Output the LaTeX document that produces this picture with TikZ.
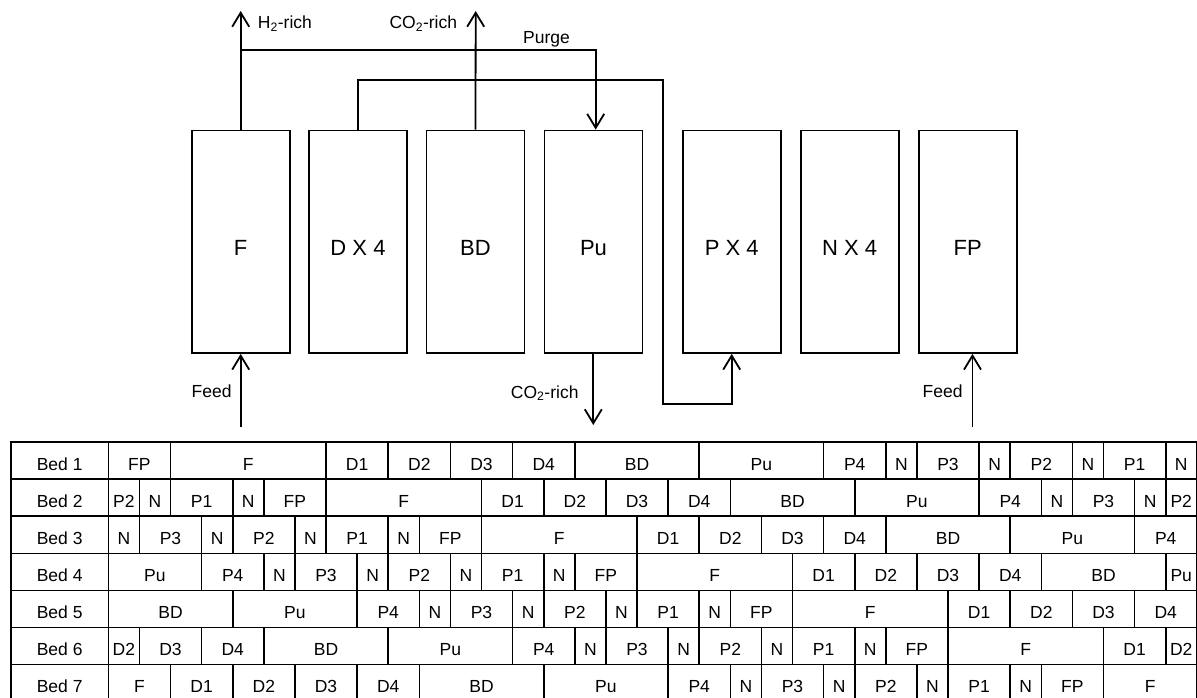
\documentclass[tikz,border=0pt]{standalone}
\usepackage{fontspec}
\setmainfont{Liberation Sans}
\usetikzlibrary{arrows.meta}
\begin{document}
\begin{tikzpicture}[x=1pt,y=-1pt,
  box/.style={draw, line width=1.8pt, minimum width=98pt, minimum height=222.5pt, inner sep=0pt,
    font=\fontsize{22}{26}\selectfont, text height=26.5pt, text depth=0pt},
  arr/.style={line width=1.8pt, -{Straight Barb[length=14pt,width=17pt]}},
  lbl/.style={inner sep=0pt, font=\fontsize{17.5}{20}\selectfont},
  cell/.style={draw, line width=1.6pt, inner sep=0pt, minimum height=37.1pt,
    font=\fontsize{17.5}{20}\selectfont, text height=19pt, text depth=0pt}]
\useasboundingbox (0,0) rectangle (1197,697);

% beds
\node[box] (F)  at (240.7,241.75) {F};
\node[box] (D)  at (358,241.75) {D X 4};
\node[box] (BD) at (475.5,241.75) {BD};
\node[box] (Pu) at (593.5,241.75) {Pu};
\node[box] (P)  at (731.7,241.75) {P X 4};
\node[box] (N)  at (849.7,241.75) {N X 4};
\node[box] (FP) at (967.7,241.75) {FP};

% coordinates
\coordinate (h2tip) at (240.7,11);
\coordinate (co2tip) at (475.7,11);
\coordinate (pj) at (240.7,50);
\coordinate (pc) at (595.7,50);
\coordinate (dtop) at (358,80);
\coordinate (dc1) at (662.7,80);
\coordinate (dc2) at (662.7,404.3);
\coordinate (co2d) at (593.3,425);
\coordinate (feedA) at (240.7,427.3);
\coordinate (feedB) at (972.5,427.3);

% connectors
\draw[arr] (F.north) -- (h2tip);
\draw[arr] (BD.north) -- (co2tip);
\draw[arr] (pj) -- (pc) -- (pc |- Pu.north);
\draw[arr, rounded corners=0pt] (D.north) -- (dtop) -- (dc1) -- (dc2) -- (dc2 -| P.south) -- (P.south);
\draw[arr] (co2d |- Pu.south) -- (co2d);
\draw[arr] (feedA) -- (F.south);
\draw[arr] (feedB) -- (feedB |- FP.south);

% labels
\node[lbl, anchor=base west] (h2) at (257.7,28.5) {H\textsubscript{2}-rich};
\node[lbl, anchor=base east] (co2a) at (457.3,28.5) {CO\textsubscript{2}-rich};
\node[lbl, anchor=base west] (purge) at (523,43.5) {Purge};
\node[lbl, anchor=base east] (co2b) at (578.7,398.3) {CO\textsubscript{2}-rich};
\node[lbl, anchor=base east] (feedAl) at (231.7,397.7) {Feed};
\node[lbl, anchor=base east] (feedBl) at (962.7,397.7) {Feed};

% schedule table
\foreach \rw/\cells in {
 1/{FP/2,F/5,D1/2,D2/2,D3/2,D4/2,BD/4,Pu/4,P4/2,N/1,P3/2,N/1,P2/2,N/1,P1/2,N/1},
 2/{P2/1,N/1,P1/2,N/1,FP/2,F/5,D1/2,D2/2,D3/2,D4/2,BD/4,Pu/4,P4/2,N/1,P3/2,N/1,P2/1},
 3/{N/1,P3/2,N/1,P2/2,N/1,P1/2,N/1,FP/2,F/5,D1/2,D2/2,D3/2,D4/2,BD/4,Pu/4,P4/2},
 4/{Pu/3,P4/2,N/1,P3/2,N/1,P2/2,N/1,P1/2,N/1,FP/2,F/5,D1/2,D2/2,D3/2,D4/2,BD/4,Pu/1},
 5/{BD/4,Pu/4,P4/2,N/1,P3/2,N/1,P2/2,N/1,P1/2,N/1,FP/2,F/5,D1/2,D2/2,D3/2,D4/2},
 6/{D2/1,D3/2,D4/2,BD/4,Pu/4,P4/2,N/1,P3/2,N/1,P2/2,N/1,P1/2,N/1,FP/2,F/5,D1/2,D2/1},
 7/{F/2,D1/2,D2/2,D3/2,D4/2,BD/4,Pu/4,P4/2,N/1,P3/2,N/1,P2/2,N/1,P1/2,N/1,FP/2,F/3}} {
  \pgfmathsetmacro{\yc}{442+(\rw-0.5)*37.1}
  \node[cell, minimum width=97.3pt] (bed\rw) at (59.65,\yc) {Bed \rw};
  \gdef\cstart{0}
  \foreach \lab/\w [count=\k] in \cells {
    \pgfmathsetmacro{\xc}{108.3+(\cstart+\w/2)*31.1}
    \pgfmathsetmacro{\ww}{\w*31.1}
    \node[cell, minimum width=\ww pt] (c\rw-\k) at (\xc,\yc) {\lab};
    \pgfmathsetmacro{\ce}{\cstart+\w}
    \xdef\cstart{\ce}
  }
}
\end{tikzpicture}
\end{document}
